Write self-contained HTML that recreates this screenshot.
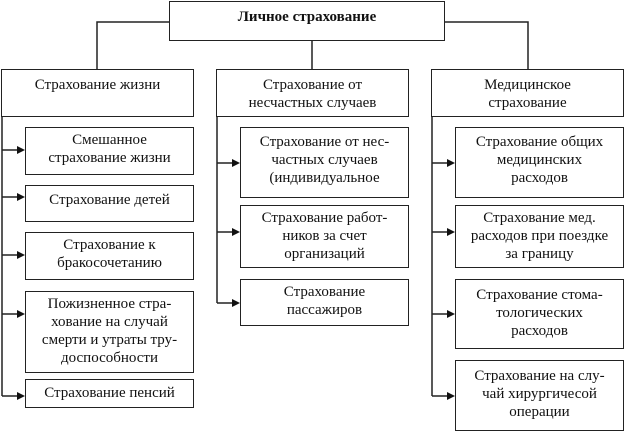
<!DOCTYPE html>
<html><head><meta charset="utf-8"><style>
body{margin:0;width:624px;height:432px;background:#fff;position:relative;overflow:hidden;font-family:"Liberation Serif","Noto Serif CJK SC",serif;color:#111}
.b{position:absolute;box-sizing:border-box;border:1.5px solid #222;background:#fff;text-align:center;font-size:15px;line-height:18px;padding-top:3px}
svg{position:absolute;left:0;top:0}
</style></head><body>
<svg width="624" height="432" stroke="#222" stroke-width="1.5" fill="none">
<path d="M169 22H97V69M444 22H528V69M312 40V69"/>
<path d="M2 116V396M217 116V303M432 116V396"/>
<g>
<path d="M2 150H18M2 197H18M2 255H18M2 314H18M2 396H18"/>
<path d="M217 163H233M217 232H233M217 303H233"/>
<path d="M432 163H448M432 232H448M432 314H448M432 396H448"/>
</g>
<g fill="#111" stroke="none">
<path d="M25 150l-8-4v8zM25 197l-8-4v8zM25 255l-8-4v8zM25 314l-8-4v8zM25 396l-8-4v8z"/>
<path d="M240 163l-8-4v8zM240 232l-8-4v8zM240 303l-8-4v8z"/>
<path d="M455 163l-8-4v8zM455 232l-8-4v8zM455 314l-8-4v8zM455 396l-8-4v8z"/>
</g>
</svg>
<div class="b" style="left:169px;top:1px;width:276px;height:40px;font-weight:bold;padding-top:6px">Личное страхование</div>
<div class="b" style="left:1px;top:69px;width:193px;height:48px;padding-top:6px">Страхование жизни</div>
<div class="b" style="left:216px;top:69px;width:193px;height:48px;padding-top:6px">Страхование от<br>несчастных случаев</div>
<div class="b" style="left:431px;top:69px;width:193px;height:48px;padding-top:6px">Медицинское<br>страхование</div>

<div class="b" style="left:25px;top:127px;width:169px;height:48px">Смешанное<br>страхование жизни</div>
<div class="b" style="left:25px;top:185px;width:169px;height:37px;padding-top:5px">Страхование детей</div>
<div class="b" style="left:25px;top:232px;width:169px;height:48px">Страхование к<br>бракосочетанию</div>
<div class="b" style="left:25px;top:291px;width:169px;height:82px">Пожизненное стра-<br>хование на случай<br>смерти и утраты тру-<br>доспособности</div>
<div class="b" style="left:25px;top:379px;width:169px;height:29px;padding-top:4px">Страхование пенсий</div>

<div class="b" style="left:240px;top:127px;width:169px;height:71px;padding-top:5px">Страхование от нес-<br>частных случаев<br>(индивидуальное</div>
<div class="b" style="left:240px;top:205px;width:169px;height:63px">Страхование работ-<br>ников за счет<br>организаций</div>
<div class="b" style="left:240px;top:279px;width:169px;height:47px">Страхование<br>пассажиров</div>

<div class="b" style="left:455px;top:127px;width:169px;height:71px;padding-top:5px">Страхование общих<br>медицинских<br>расходов</div>
<div class="b" style="left:455px;top:205px;width:169px;height:63px">Страхование мед.<br>расходов при поездке<br>за границу</div>
<div class="b" style="left:455px;top:279px;width:169px;height:70px;padding-top:6px">Страхование стома-<br>тологических<br>расходов</div>
<div class="b" style="left:455px;top:360px;width:169px;height:71px;padding-top:6px">Страхование на слу-<br>чай хирургичесой<br>операции</div>
</body></html>
